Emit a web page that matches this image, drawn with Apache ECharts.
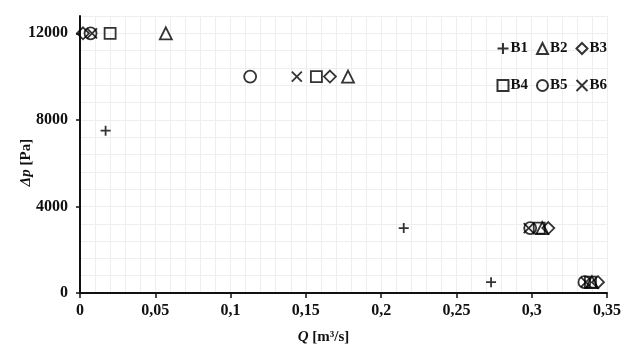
<!DOCTYPE html>
<html><head><meta charset="utf-8">
<script src="https://cdn.jsdelivr.net/npm/echarts@6/dist/echarts.min.js"></script>
<style>html,body{margin:0;padding:0;background:#fff}#c{width:624px;height:347px}</style>
</head><body><div id="c"></div>
<script>
const P_FULL = [12000, 10000, 3000, 500];
const b1Q = [0.017, 0.215, 0.273];
const b1P = [7500, 3000, 500];
const b2Q = [0.057, 0.178, 0.307, 0.340];
const b3Q = [0.002, 0.166, 0.311, 0.344];
const b4Q = [0.020, 0.157, 0.305, 0.339];
const b5Q = [0.007, 0.113, 0.299, 0.335];
const b6Q = [0.008, 0.144, 0.298, 0.336];
const xTicks = [0, 0.05, 0.1, 0.15, 0.2, 0.25, 0.3, 0.35];
const yTicks = [0, 4000, 8000, 12000];

const FONT = 'Liberation Serif';
function pts(q, p) { return q.map((v, i) => [v, p[i]]); }
const mk = (name, q, p, symbol, size) => ({
  name, type: 'scatter', data: pts(q, p), symbol, symbolSize: size,
  xAxisIndex: 0, yAxisIndex: 0,
  itemStyle: { color: 'rgba(0,0,0,0)', borderColor: '#000', borderWidth: 1.8 },
  emphasis: { disabled: true }
});
const legendCommon = {
  right: 12, itemWidth: 11, itemHeight: 11, itemGap: 8,
  textStyle: { fontFamily: FONT, fontWeight: 'bold', fontSize: 15, color: '#111', padding: [0, 0, 0, -3] }
};
const labelStyle = { fontFamily: FONT, fontWeight: 'bold', fontSize: 16, color: '#111' };
const nameStyle = (pad) => ({ fontFamily: FONT, fontWeight: 'bold', fontSize: 15, color: '#111', padding: pad,
  rich: { i: { fontFamily: FONT, fontWeight: 'bold', fontStyle: 'italic', fontSize: 15, color: '#111' } } });
const chart = echarts.init(document.getElementById('c'));
chart.setOption({
  animation: false,
  backgroundColor: '#fff',
  grid: { left: 80, right: 17, top: 16, bottom: 54, containLabel: false, outerBoundsMode: 'none' },
  legend: [
    Object.assign({ top: 36, data: ['B1', 'B2', 'B3'] }, legendCommon),
    Object.assign({ top: 73, data: ['B4', 'B5', 'B6'] }, legendCommon)
  ],
  xAxis: [{
    type: 'value', min: 0, max: 0.35, interval: 0.01, position: 'bottom',
    axisLine: { show: false }, axisTick: { show: false }, axisLabel: { show: false },
    splitLine: { show: true, lineStyle: { color: '#eeeeee', width: 1 } }
  }, {
    type: 'value', min: 0, max: 0.35, interval: 0.05, position: 'bottom', offset: 0,
    name: '{i|Q} [m³/s]', nameLocation: 'middle', nameGap: 37, nameTextStyle: nameStyle([0, 40, 0, 0]),
    axisLine: { show: true, lineStyle: { color: '#111', width: 2 } },
    axisTick: { show: true, length: 5, lineStyle: { color: '#111', width: 1.5 }, customValues: xTicks },
    axisLabel: Object.assign({ margin: 10, customValues: xTicks,
      formatter: v => String(+v.toFixed(2)).replace('.', ',') }, labelStyle),
    splitLine: { show: false }
  }],
  yAxis: [{
    type: 'value', min: 0, max: 12800, interval: 800, position: 'left',
    axisLine: { show: false }, axisTick: { show: false }, axisLabel: { show: false },
    splitLine: { show: true, lineStyle: { color: '#eeeeee', width: 1 } }
  }, {
    type: 'value', min: 0, max: 12800, interval: 800, position: 'left', offset: 0,
    name: '{i|Δp} [Pa]', nameLocation: 'middle', nameGap: 46, nameMoveOverlap: false, nameTextStyle: nameStyle([0, 16, 0, 0]),
    axisLine: { show: true, lineStyle: { color: '#111', width: 2 } },
    axisTick: { show: true, length: 4, lineStyle: { color: '#111', width: 1.5 }, customValues: yTicks },
    axisLabel: Object.assign({ margin: 12, customValues: yTicks, formatter: v => String(v) }, labelStyle),
    splitLine: { show: false }
  }],
  series: [
    mk('B1', b1Q, b1P, 'path://M0,5L10,5M5,0L5,10', 10),
    mk('B2', b2Q, P_FULL, 'triangle', 12),
    mk('B3', b3Q, P_FULL, 'diamond', 12),
    mk('B4', b4Q, P_FULL, 'rect', 11),
    mk('B5', b5Q, P_FULL, 'circle', 12),
    mk('B6', b6Q, P_FULL, 'path://M0,0L10,10M10,0L0,10', 10)
  ]
});
</script></body></html>
